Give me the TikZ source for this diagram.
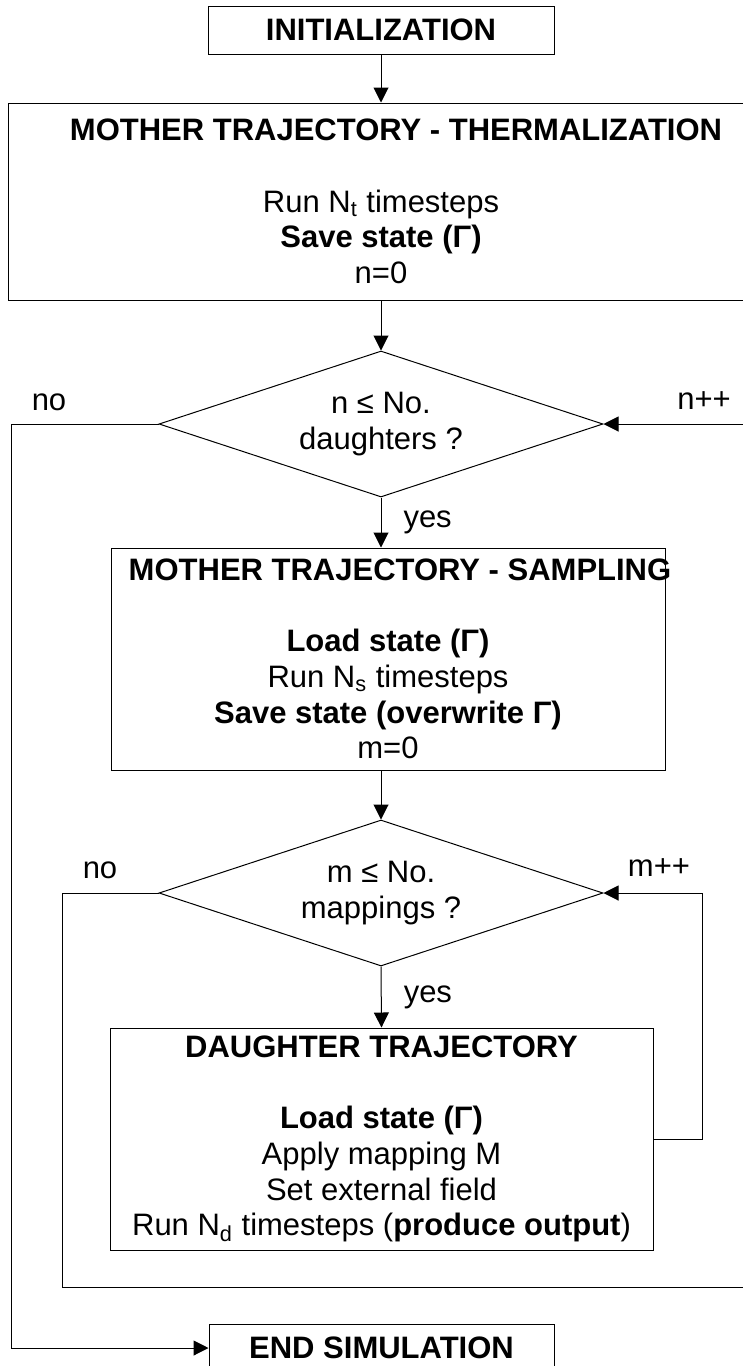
\documentclass[tikz,border=0pt]{standalone}
\usepackage{fontspec}
\setmainfont{Liberation Sans}
\usetikzlibrary{arrows.meta}
\usetikzlibrary{shapes.geometric}

% box title, centred with a shift to the right
\newcommand{\boxtitle}[2]{\makebox[0pt]{\hspace*{#1}\textbf{#2}}}

\tikzset{
  box/.style={draw, rectangle, inner sep=0pt, align=center, line width=.5pt},
  decision/.style={draw, diamond, aspect=3, inner sep=0pt, align=center, line width=.5pt},
  flow/.style={line width=.5pt, -{Triangle[length=7.5pt, width=7.5pt]}},
  lbl/.style={inner sep=0pt}
}

\begin{document}
\begin{tikzpicture}[x=.5pt, y=-.5pt, font=\fontsize{15.5}{17.8}\selectfont]
\clip (0,0) rectangle (743,1366);

\node[box, minimum width=173pt, minimum height=24pt] (init) at (381,30) {\textbf{INITIALIZATION}};
\node[box, minimum width=373pt, minimum height=98.5pt] (therm) at (381,201.5)
  {\boxtitle{15pt}{MOTHER TRAJECTORY - THERMALIZATION}\\ ~ \\Run N\textsubscript{t} timesteps\\ \textbf{Save state (Γ)}\\n=0};
\node[decision, minimum width=222pt, minimum height=73pt] (dec1) at (381,424) {n ≤ No.\\daughters ?};
\node[box, minimum width=277pt, minimum height=111pt] (samp) at (388,659)
  {\boxtitle{12pt}{MOTHER TRAJECTORY - SAMPLING}\\ ~ \\ \textbf{Load state (Γ)}\\Run N\textsubscript{s} timesteps\\ \textbf{Save state (overwrite Γ)}\\m=0};
\node[decision, minimum width=222pt, minimum height=73pt] (dec2) at (381,893) {m ≤ No.\\mappings ?};
\node[box, minimum width=271.5pt, minimum height=111pt] (daught) at (381.5,1139)
  {\boxtitle{0pt}{DAUGHTER TRAJECTORY}\\ ~ \\ \textbf{Load state (Γ)}\\Apply mapping M\\Set external field\\Run N\textsubscript{d} timesteps (\textbf{produce output})};
\node[box, minimum width=172.5pt, minimum height=24pt] (endsim) at (381.5,1348) {\textbf{END SIMULATION}};

% labels
\node[lbl] (no1) at (49,402) {no};
\node[lbl] (npp) at (704,401) {n++};
\node[lbl] (no2) at (100,870) {no};
\node[lbl] (mpp) at (659,868) {m++};

% main flow
\draw[flow] (init.south) -- (init.south |- therm.north);
\draw[flow] (therm.south) -- (dec1.north);
\draw[flow] (dec1.south) -- node[lbl, anchor=west, xshift=11pt] (yes1) {yes} (dec1.south |- samp.north);
\draw[flow] (dec2.north |- samp.south) -- (dec2.north);
\draw[flow] (dec2.south) -- node[lbl, anchor=west, xshift=11pt] (yes2) {yes} (daught.north);

% loops
\draw[flow] (daught.east) -- ++(49,0) |- (dec2.east);
\draw[flow] (dec2.west) -- (62,893) -- (62,1287) -- (790,1287) |- (dec1.east);
\draw[flow] (dec1.west) -- (11,424) |- (endsim.west);

\end{tikzpicture}
\end{document}
